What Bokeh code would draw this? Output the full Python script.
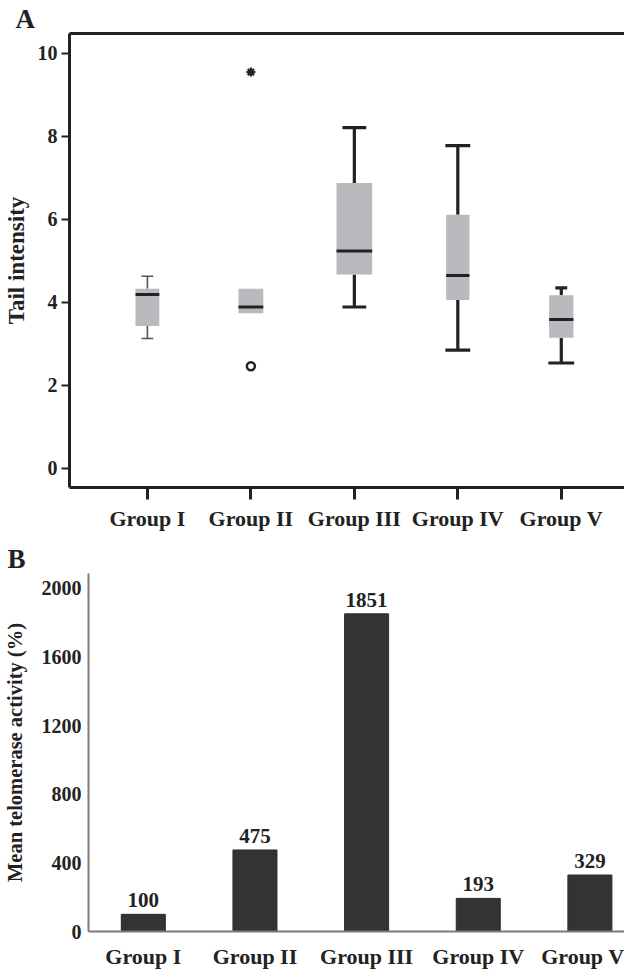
from bokeh.plotting import figure
from bokeh.models import (ColumnDataSource, FixedTicker, LinearAxis, Range1d)
from bokeh.embed import file_html
from bokeh.resources import INLINE

# ---------------- data ----------------
groups = ["Group I", "Group II", "Group III", "Group IV", "Group V"]
positions = [1, 2, 3, 4, 5]

# panel A: tail intensity box plot
whisker_low = [3.13, 3.74, 3.89, 2.85, 2.54]
q1 = [3.43, 3.74, 4.67, 4.06, 3.15]
median = [4.19, 3.89, 5.24, 4.65, 3.59]
q3 = [4.33, 4.33, 6.88, 6.11, 4.17]
whisker_high = [4.63, 4.33, 8.21, 7.78, 4.35]
outlier_circle_group = [2]
outlier_circle_value = [2.46]
outlier_star_group = [2]
outlier_star_value = [9.55]
a_ticks = [0, 2, 4, 6, 8, 10]

# panel B: mean telomerase activity
telomerase = [100, 475, 1851, 193, 329]
b_ticks = [0, 400, 800, 1200, 1600, 2000]

# ---------------- styles ----------------
FONT = "Liberation Serif"
TXT = "#222222"
box_w = [0.23, 0.24, 0.345, 0.225, 0.235]
cap_hi_w = [0.115, 0.0, 0.23, 0.24, 0.115]
cap_lo_w = [0.115, 0.0, 0.23, 0.24, 0.25]
wh_lw = [1.6, 0.0, 3.2, 3.2, 3.2]
wh_col = ["#555555", "#222222", "#222222", "#222222", "#222222"]


def style_labels(ax, size):
    ax.major_label_text_font = FONT
    ax.major_label_text_font_style = "bold"
    ax.major_label_text_font_size = size
    ax.major_label_text_color = TXT
    ax.minor_tick_line_color = None


def style_title(p, offset):
    p.title.align = "left"
    p.title.vertical_align = "bottom"
    p.title.offset = offset
    p.title.standoff = 0
    p.title.text_font = FONT
    p.title.text_font_style = "bold"
    p.title.text_font_size = "27px"
    p.title.text_color = TXT
    p.title.text_line_height = 1.0


# ================= panel A =================
pa = figure(width=624, height=541, output_backend="svg", toolbar_location=None,
            title="A",
            x_range=Range1d(0.247, 5.611), y_range=Range1d(-0.46, 10.48),
            min_border_left=65, min_border_right=0, min_border_top=33,
            min_border_bottom=54, x_axis_location=None, y_axis_location=None)
style_title(pa, -54)
pa.outline_line_color = None
pa.xgrid.visible = False
pa.ygrid.visible = False

ya = LinearAxis(ticker=FixedTicker(ticks=a_ticks), axis_label="Tail intensity")
ya.axis_line_width = 3
ya.axis_line_color = TXT
ya.major_tick_in = 0
ya.major_tick_out = 8
ya.major_tick_line_width = 2
ya.major_tick_line_color = TXT
style_labels(ya, "20px")
ya.major_label_standoff = 4
ya.axis_label_text_font = FONT
ya.axis_label_text_font_style = "bold"
ya.axis_label_text_font_size = "23px"
ya.axis_label_text_color = TXT
ya.axis_label_standoff = 6
pa.add_layout(ya, "left")

xa = LinearAxis(ticker=FixedTicker(ticks=positions),
                major_label_overrides={p: g for p, g in zip(positions, groups)})
xa.axis_line_width = 3
xa.axis_line_color = TXT
xa.major_tick_in = 0
xa.major_tick_out = 12
xa.major_tick_line_width = 3
xa.major_tick_line_color = TXT
style_labels(xa, "22px")
xa.major_label_standoff = 6
pa.add_layout(xa, "below")

ta = LinearAxis(ticker=FixedTicker(ticks=positions))
ta.axis_line_width = 3
ta.axis_line_color = TXT
ta.major_tick_out = 0
ta.major_tick_in = 0
ta.major_tick_line_color = None
ta.minor_tick_line_color = None
ta.major_label_text_color = None
ta.major_label_text_font_size = "1px"
ta.major_label_standoff = 0
pa.add_layout(ta, "above")

src = ColumnDataSource(dict(
    x=positions, q1=q1, q3=q3, med=median, lo=whisker_low, hi=whisker_high,
    bw=box_w,
    bx0=[p - w / 2 for p, w in zip(positions, box_w)],
    bx1=[p + w / 2 for p, w in zip(positions, box_w)],
    chx0=[p - w / 2 for p, w in zip(positions, cap_hi_w)],
    chx1=[p + w / 2 for p, w in zip(positions, cap_hi_w)],
    clx0=[p - w / 2 for p, w in zip(positions, cap_lo_w)],
    clx1=[p + w / 2 for p, w in zip(positions, cap_lo_w)],
    lw=wh_lw, col=wh_col,
))

# whiskers
pa.segment(x0="x", y0="q3", x1="x", y1="hi", line_width="lw", line_color="col", source=src)
pa.segment(x0="x", y0="q1", x1="x", y1="lo", line_width="lw", line_color="col", source=src)
pa.segment(x0="chx0", y0="hi", x1="chx1", y1="hi", line_width="lw", line_color="col", source=src)
pa.segment(x0="clx0", y0="lo", x1="clx1", y1="lo", line_width="lw", line_color="col", source=src)
# boxes
pa.vbar(x="x", width="bw", bottom="q1", top="q3", fill_color="#b9babe",
        line_color=None, source=src)
# medians
pa.segment(x0="bx0", y0="med", x1="bx1", y1="med", line_width=3,
           line_color=TXT, source=src)
# outliers
pa.scatter(x=outlier_circle_group, y=outlier_circle_value, marker="circle", size=8,
           fill_color="white", line_color=TXT, line_width=2.5)
pa.scatter(x=outlier_star_group, y=outlier_star_value, marker="asterisk", size=9,
           line_color=TXT, line_width=2.2)

# ================= panel B =================
pb = figure(width=624, height=430, output_backend="svg", toolbar_location=None,
            title="B",
            x_range=Range1d(0.509, 5.31), y_range=Range1d(0, 2086),
            min_border_left=82, min_border_right=0, min_border_top=24,
            min_border_bottom=37, x_axis_location=None, y_axis_location=None)
style_title(pb, -81)
pb.outline_line_color = None
pb.xgrid.visible = False
pb.ygrid.visible = False

yb = LinearAxis(ticker=FixedTicker(ticks=b_ticks), axis_label="Mean telomerase activity (%)")
yb.axis_line_width = 2
yb.axis_line_color = "#7a7a7a"
yb.major_tick_in = 0
yb.major_tick_out = 0
style_labels(yb, "20px")
yb.major_label_standoff = 7
yb.axis_label_text_font = FONT
yb.axis_label_text_font_style = "bold"
yb.axis_label_text_font_size = "20.5px"
yb.axis_label_text_color = TXT
yb.axis_label_standoff = 13
pb.add_layout(yb, "left")

xb = LinearAxis(ticker=FixedTicker(ticks=positions),
                major_label_overrides={p: g for p, g in zip(positions, groups)})
xb.axis_line_width = 2
xb.axis_line_color = "#7a7a7a"
xb.major_tick_in = 0
xb.major_tick_out = 0
style_labels(xb, "22px")
xb.major_label_standoff = 12
pb.add_layout(xb, "below")

bsrc = ColumnDataSource(dict(x=positions, v=telomerase, t=[str(v) for v in telomerase]))
pb.vbar(x="x", top="v", width=0.394, bottom=0, fill_color="#333333",
        line_color="#2a2a2a", source=bsrc)
pb.text(x="x", y="v", text="t", source=bsrc, text_align="center",
        text_baseline="bottom", y_offset=-7, text_font_size="21px",
        text_font_style="bold", text_color=TXT,
        text_font={"value": FONT})

open("out.html", "w").write(file_html([pa, pb], INLINE))
